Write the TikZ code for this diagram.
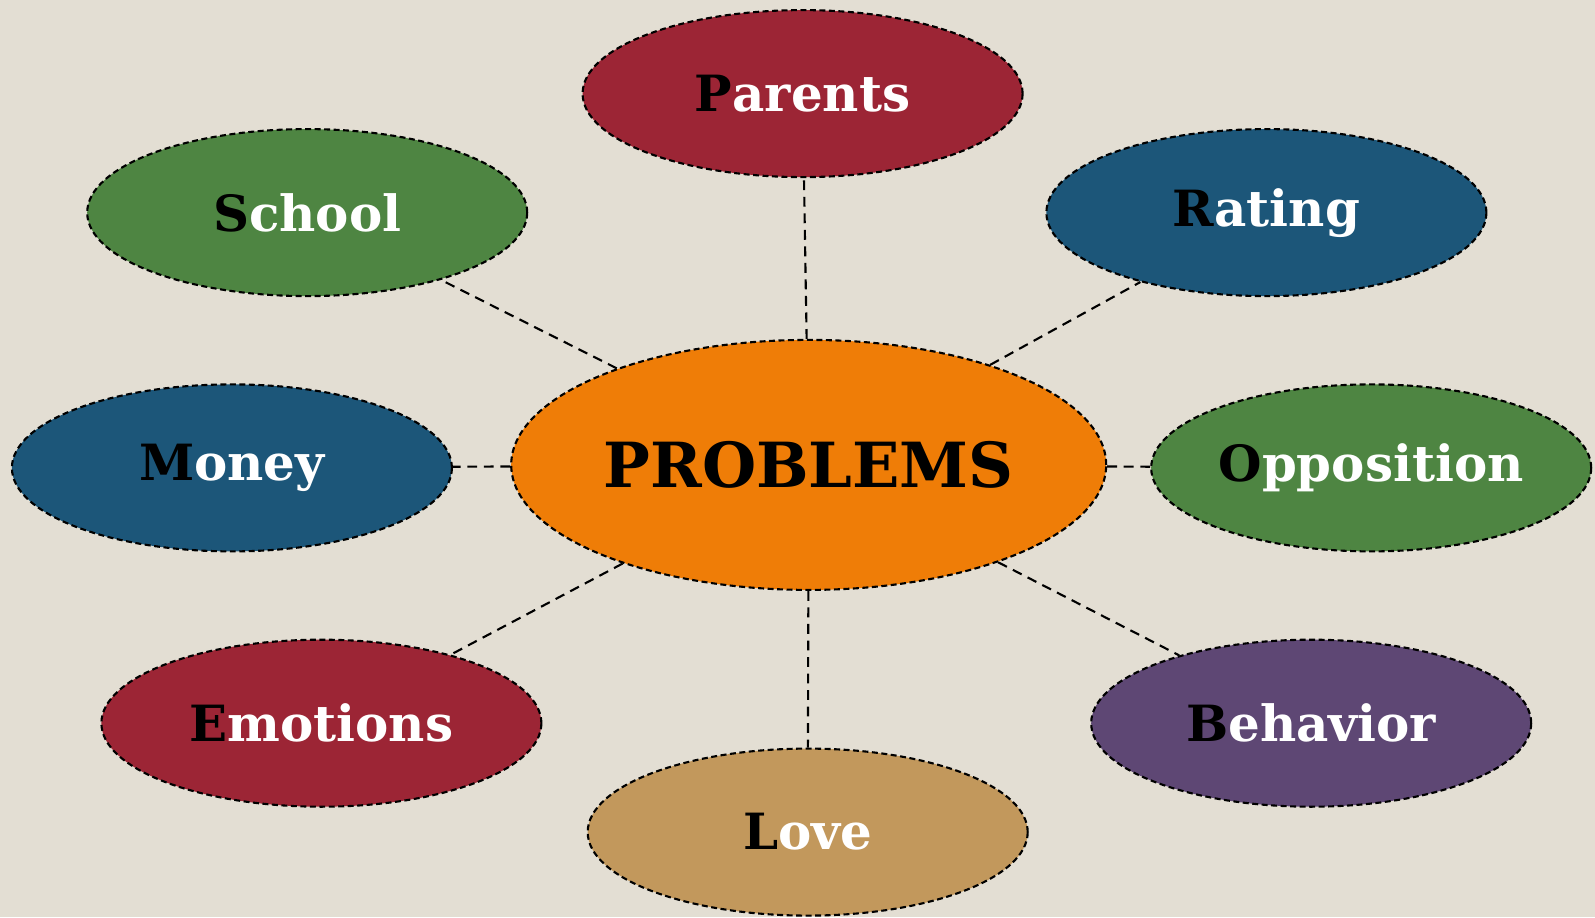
\documentclass[tikz,border=0pt]{standalone}
\usepackage{fontspec}
\setmainfont{DejaVu Serif}
\usepackage{tikz}
\usetikzlibrary{shapes.geometric}

\definecolor{bgcol}{HTML}{E3DED3}
\definecolor{redcol}{HTML}{9C2535}
\definecolor{greencol}{HTML}{4E8542}
\definecolor{bluecol}{HTML}{1C5679}
\definecolor{orangecol}{HTML}{EF7D07}
\definecolor{purplecol}{HTML}{5E4774}
\definecolor{tancol}{HTML}{C2985C}

\newcommand{\lbl}[2]{\textbf{\textcolor{black}{#1}\textcolor{white}{#2}}}

\tikzset{
	topic/.style={ellipse,draw=black,line width=0.6pt,dash pattern=on 1.7pt off 1pt,fill=#1,minimum width=4.4cm,minimum height=1.67cm,inner sep=0pt,font=\fontsize{14.2}{16}\selectfont},
	hub/.style={ellipse,draw=black,line width=0.6pt,dash pattern=on 1.7pt off 1pt,fill=orangecol,minimum width=5.95cm,minimum height=2.5cm,inner sep=0pt,font=\fontsize{17.7}{20}\selectfont\bfseries},
	link/.style={draw=black,line width=0.6pt,dash pattern=on 2.8pt off 1.9pt}
}

\begin{document}
\begin{tikzpicture}
	\fill[bgcol] (0,0) rectangle (15.95,9.17);
	\useasboundingbox (0,0) rectangle (15.95,9.17);
	\node[hub] (problems) at (8.087,4.521) {PROBLEMS};
	\node[topic=redcol] (parents) at (8.026,8.234) {\lbl{P}{arents}};
	\node[topic=greencol] (school) at (3.072,7.044) {\lbl{S}{chool}};
	\node[topic=bluecol] (rating) at (12.664,7.044) {\lbl{R}{ating}};
	\node[topic=bluecol] (money) at (2.319,4.491) {\lbl{M}{oney}};
	\node[topic=greencol] (opposition) at (13.712,4.491) {\lbl{O}{pposition}};
	\node[topic=redcol] (emotions) at (3.214,1.938) {\lbl{E}{motions}};
	\node[topic=purplecol] (behavior) at (13.112,1.938) {\lbl{B}{ehavior}};
	\node[topic=tancol] (love) at (8.077,0.849) {\lbl{L}{ove}};
	% connectors
	\foreach \t in {parents,school,rating,money,opposition,emotions,behavior,love}
	{
		\draw[link] (problems) -- (\t);
	}
\end{tikzpicture}
\end{document}
